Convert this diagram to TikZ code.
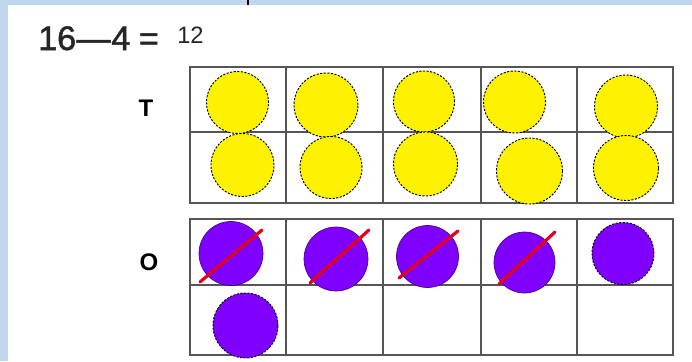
\documentclass[tikz,border=0pt]{standalone}
\usepackage{fontspec}
\setmainfont{Liberation Sans}
\newfontfamily\eqfont{Liberation Sans}[FakeBold=1.5]
\definecolor{bgblue}{HTML}{BFD6EC}
\definecolor{ylw}{HTML}{FFF200}
\definecolor{vio}{HTML}{7F00FF}
\definecolor{strk}{HTML}{E3001B}
\definecolor{gridc}{HTML}{555555}
\begin{document}
\begin{tikzpicture}[x=0.75pt,y=-0.75pt,
  gridline/.style={draw=gridc, line width=1.1pt},
  yc/.style={circle, fill=ylw, draw=black, dash pattern=on 1.6pt off 1.1pt, line width=0.7pt, inner sep=0pt},
  pc/.style={circle, fill=vio, draw=vio!55!black, line width=0.5pt, inner sep=0pt},
  pcd/.style={circle, fill=vio, draw=black, dash pattern=on 1.6pt off 1.1pt, line width=0.7pt, inner sep=0pt},
  strike/.style={draw=strk, line width=2.4pt, line cap=round},
  lbl/.style={font=\bfseries\fontsize{18}{20}\selectfont, inner sep=0pt}]
\useasboundingbox (0,0) rectangle (692,361);
\fill[bgblue] (0,0) rectangle (692,361);
\fill[white] (8,5) rectangle (692,361);
\coordinate (tk1) at (248,0);
\coordinate (tk2) at (248,5);
\draw[line width=1.1pt] (tk1) -- (tk2);
% equation
\node[anchor=base west, inner sep=0pt, font=\eqfont\fontsize{25.5}{28}\selectfont, text=black!85] (eq) at (38,50) {16\kern0.5pt—\kern0.5pt4\kern6.5pt=};
\node[anchor=base west, inner sep=0pt, font=\fontsize{17.8}{20}\selectfont, text=black!85] (ans) at (177,43) {12};
% labels
\node[lbl] (T) at (146,108) {T};
\node[lbl] (O) at (149,262) {O};
% grids
\draw[gridline] (190,67) rectangle (673,203);
\draw[gridline] (190,132) -- (673,132);
\draw[gridline] (190,219) rectangle (673,355);
\draw[gridline] (190,285) -- (673,285);
\foreach \xx in {286,383,481,577}{
  \draw[gridline] (\xx,67) -- (\xx,203);
  \draw[gridline] (\xx,219) -- (\xx,355);
}
% tens
\node[yc, minimum size=46.5pt] (y11) at (237.5,102.5) {};
\node[yc, minimum size=47.25pt] (y21) at (242.5,165) {};
\node[yc, minimum size=48pt] (y12) at (326,105) {};
\node[yc, minimum size=46.5pt] (y22) at (331,167.5) {};
\node[yc, minimum size=45.75pt] (y13) at (424,101.5) {};
\node[yc, minimum size=48pt] (y23) at (425.5,164) {};
\node[yc, minimum size=46.5pt] (y14) at (514.5,102) {};
\node[yc, minimum size=49.5pt] (y24) at (529.5,171) {};
\node[yc, minimum size=47.25pt] (y15) at (626,106.5) {};
\node[yc, minimum size=48.75pt] (y25) at (626,168) {};
% ones
\node[pc, minimum size=48pt] (p11) at (231,253.5) {};
\node[pcd, minimum size=48.75pt] (p21) at (245.5,325.5) {};
\node[pc, minimum size=48pt] (p12) at (336,259) {};
\node[pc, minimum size=46.5pt] (p13) at (427.5,256.5) {};
\node[pc, minimum size=45.75pt] (p14) at (524.5,262.5) {};
\node[pcd, minimum size=46.5pt] (p15) at (623,253.5) {};
% strikes
\draw[strike] (200,282) -- (262,230);
\draw[strike] (310,283) -- (369,230);
\draw[strike] (399,278) -- (458,231);
\draw[strike] (499,284) -- (555,232);
\end{tikzpicture}
\end{document}
